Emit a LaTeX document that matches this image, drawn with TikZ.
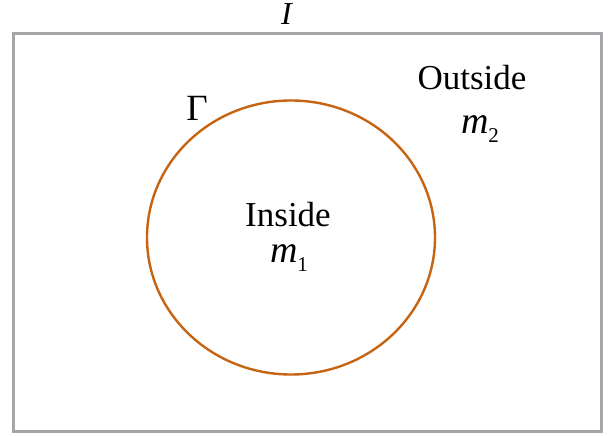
\documentclass[tikz,border=0pt]{standalone}
\usepackage{fontspec}
\setmainfont{Liberation Serif}
\usepackage{tikz}

\definecolor{boxgray}{RGB}{165,165,170}
\definecolor{curveorange}{RGB}{198,100,18}

\newcommand{\msub}[1]{{\fontsize{38}{40}\selectfont\textit{m}}\raisebox{-0.28em}{\fontsize{21}{24}\selectfont #1}}

\begin{document}
\begin{tikzpicture}[x=1pt, y=-1pt]
% --- Global Styles ---
\tikzstyle{domainbox} = [draw=boxgray, line width=3pt]
\tikzstyle{interface} = [draw=curveorange, line width=2.4pt]
\tikzstyle{lbl} = [inner sep=0pt, anchor=base, font=\fontsize{35}{40}\selectfont]

% --- Key Coordinates ---
\def\cx{291}    % circle centre x
\def\cy{237.5}  % circle centre y
\def\rx{144}    % horizontal radius
\def\ry{137}    % vertical radius

\useasboundingbox (0,0) rectangle (613,436);

% ==========================================
% OUTER DOMAIN
% ==========================================
\draw[domainbox] (13.5,33.5) rectangle (601.5,431.5);
\node[lbl, font=\fontsize{32}{36}\selectfont] (domlabel) at (287,25) {\textit{I}};

% ==========================================
% INTERFACE
% ==========================================
\draw[interface] (\cx,\cy) ellipse [x radius=\rx, y radius=\ry];
\node[lbl, font=\fontsize{37}{40}\selectfont] (gamma) at (197,120) {Γ};

% ==========================================
% REGION LABELS
% ==========================================
\node[lbl] (outside) at (472,89) {Outside};
\node[lbl] (mout) at (480,133) {\msub{2}};

\node[lbl] (inside) at (288,226) {Inside};
\node[lbl] (min) at (289,262) {\msub{1}};

\end{tikzpicture}
\end{document}
